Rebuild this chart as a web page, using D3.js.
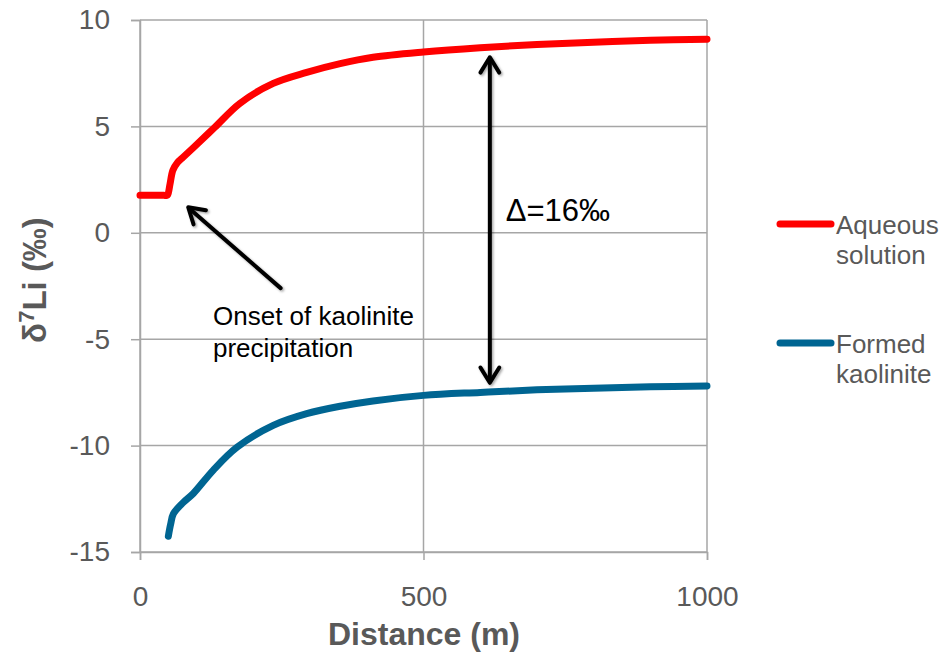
<!DOCTYPE html>
<html lang="en">
<head>
<meta charset="utf-8">
<script src="https://d3js.org/d3.v7.min.js"></script>
<style>
body { margin: 0; background: #fff; font-family: Arial, "Liberation Sans", sans-serif; }
.grid line { stroke: #a6a6a6; stroke-width: 1.5; }
</style>
</head>
<body>
<svg id="chart" width="952" height="654"></svg>
<script>
// data
var aqDist = [0, 15, 30, 42, 47, 49, 53, 58, 66, 76, 94, 132, 176, 235, 294, 353, 411, 500, 600, 700, 800, 900, 1000];
var aqVal  = [1.76, 1.76, 1.76, 1.76, 1.76, 1.8, 2.3, 2.94, 3.3, 3.55, 4.0, 4.96, 6.08, 7.02, 7.54, 7.95, 8.25, 8.5, 8.7, 8.85, 8.95, 9.05, 9.1];

var kaDist = [50, 54, 59, 76, 94, 129, 171, 235, 294, 353, 411, 500, 600, 700, 800, 900, 1000];
var kaVal  = [-14.26, -13.7, -13.2, -12.68, -12.25, -11.16, -10.08, -9.05, -8.5, -8.15, -7.9, -7.64, -7.5, -7.38, -7.3, -7.24, -7.2];

var xTicks = [0, 500, 1000];
var yTicks = [10, 5, 0, -5, -10, -15];

var seriesNames = ["Aqueous solution", "Formed kaolinite"];
var seriesColors = ["#ff0000", "#006592"];

var svg = d3.select("#chart");

var x = d3.scaleLinear().domain([0, 1000]).range([140, 707]);
var y = d3.scaleLinear().domain([-15, 10]).range([552, 20]);

// gridlines
svg.append("g").attr("class", "grid")
  .selectAll("line").data(yTicks).enter().append("line")
  .attr("x1", x(0)).attr("x2", x(1000))
  .attr("y1", function(d) { return y(d); })
  .attr("y2", function(d) { return y(d); });

svg.append("g").attr("class", "grid")
  .selectAll("line").data(xTicks).enter().append("line")
  .attr("y1", y(10)).attr("y2", y(-15))
  .attr("x1", function(d) { return x(d); })
  .attr("x2", function(d) { return x(d); });

// axes
var fmt = function(d) { return String(d); };
var yAxis = d3.axisLeft(y).tickValues(yTicks).tickFormat(fmt).tickSize(9).tickPadding(21);
var xAxis = d3.axisBottom(x).tickValues(xTicks).tickFormat(fmt).tickSize(8).tickPadding(26);

var gy = svg.append("g").attr("transform", "translate(" + x(0) + ",0)").call(yAxis);
var gx = svg.append("g").attr("transform", "translate(0," + y(-15) + ")").call(xAxis);
[gy, gx].forEach(function(g) {
  g.attr("font-family", "Arial, 'Liberation Sans', sans-serif").attr("font-size", 28);
  g.select(".domain").attr("stroke", "#a6a6a6").attr("stroke-width", 1.5);
  g.selectAll(".tick line").attr("stroke", "#a6a6a6").attr("stroke-width", 1.5);
  g.selectAll(".tick text").attr("fill", "#595959");
});
gx.selectAll(".tick text").attr("dy", "0.71em");

// axis titles
svg.append("text")
  .attr("x", 424).attr("y", 645)
  .attr("text-anchor", "middle")
  .attr("font-size", 32).attr("font-weight", "bold").attr("fill", "#595959")
  .text("Distance (m)");

var yt = svg.append("text")
  .attr("transform", "translate(46,280) rotate(-90)")
  .attr("text-anchor", "middle")
  .attr("font-size", 33).attr("font-weight", "bold").attr("fill", "#595959");
yt.append("tspan").text("δ");
yt.append("tspan").attr("dy", -12).attr("font-size", 22).text("7");
yt.append("tspan").attr("dy", 12).text("Li (‰)");

// lines
var line = d3.line()
  .x(function(d) { return x(d[0]); })
  .y(function(d) { return y(d[1]); })
  .curve(d3.curveCatmullRom.alpha(0.5));

var series = [d3.zip(aqDist, aqVal), d3.zip(kaDist, kaVal)];

svg.selectAll(".series").data(series).enter().append("path")
  .attr("class", "series")
  .attr("d", line)
  .attr("fill", "none")
  .attr("stroke", function(d, i) { return seriesColors[i]; })
  .attr("stroke-width", 7)
  .attr("stroke-linecap", "round")
  .attr("stroke-linejoin", "round");

// annotations
var defs = svg.append("defs");
var f = defs.append("filter").attr("id", "shadow").attr("x", "-20%").attr("y", "-20%").attr("width", "140%").attr("height", "140%");
f.append("feDropShadow").attr("dx", 1.5).attr("dy", 1.5).attr("stdDeviation", 1.2).attr("flood-color", "#000").attr("flood-opacity", 0.35);

function arrowHead(tx, ty, fx, fy, len) {
  var a = Math.atan2(ty - fy, tx - fx), s = 0.55;
  return "M" + (tx - len * Math.cos(a - s)) + "," + (ty - len * Math.sin(a - s)) +
         "L" + tx + "," + ty +
         "L" + (tx - len * Math.cos(a + s)) + "," + (ty - len * Math.sin(a + s));
}

var ann = svg.append("g").attr("filter", "url(#shadow)")
  .attr("stroke", "#000").attr("stroke-width", 4).attr("fill", "none")
  .attr("stroke-linecap", "round").attr("stroke-linejoin", "round");

// delta arrow
var dX = x(617), dTop = y(8.25), dBot = y(-7.05);
ann.append("path").attr("d", "M" + dX + "," + (dTop + 2) + "L" + dX + "," + (dBot - 2));
ann.append("path").attr("d", arrowHead(dX, dTop, dX, dBot, 18));
ann.append("path").attr("d", arrowHead(dX, dBot, dX, dTop, 18));

// onset arrow
var oTipX = x(85), oTipY = y(1.2), oTailX = x(248), oTailY = y(-2.6);
ann.append("path").attr("d", "M" + oTailX + "," + oTailY + "L" + (oTipX + 2) + "," + (oTipY + 2));
ann.append("path").attr("d", arrowHead(oTipX, oTipY, oTailX, oTailY, 18));

svg.append("text")
  .attr("x", x(645)).attr("y", y(0.55))
  .attr("font-size", 31).attr("fill", "#000")
  .text("Δ=16‰");

var ot = svg.append("text").attr("x", 213).attr("y", 325).attr("font-size", 26).attr("fill", "#000");
ot.append("tspan").attr("x", 213).text("Onset of kaolinite");
ot.append("tspan").attr("x", 213).attr("dy", 32).text("precipitation");

// legend
var legY = [224, 343];
var leg = svg.selectAll(".leg").data(seriesNames).enter().append("g")
  .attr("class", "leg")
  .attr("transform", function(d, i) { return "translate(0," + legY[i] + ")"; });
leg.append("line")
  .attr("x1", 780).attr("x2", 831).attr("y1", 0).attr("y2", 0)
  .attr("stroke", function(d, i) { return seriesColors[i]; })
  .attr("stroke-width", 7).attr("stroke-linecap", "round");
leg.append("text")
  .attr("x", 836).attr("y", 10)
  .attr("font-size", 26).attr("fill", "#595959")
  .each(function(d) {
    var parts = d.split(" ");
    d3.select(this).append("tspan").attr("x", 836).text(parts[0]);
    d3.select(this).append("tspan").attr("x", 836).attr("dy", 30).text(parts[1]);
  });
</script>
</body>
</html>
